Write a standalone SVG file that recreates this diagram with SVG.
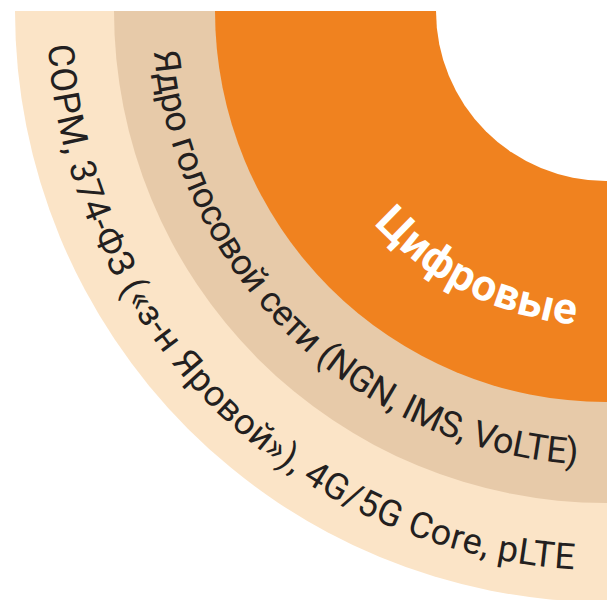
<svg xmlns="http://www.w3.org/2000/svg" width="607" height="600" viewBox="0 0 607 600">
  <defs>
    <clipPath id="clip">
      <rect x="0" y="11" width="607" height="589"/>
    </clipPath>
    <path id="p1" d="M373.8,223.8 A315,315 0 0 0 575.3,324.5"/>
    <path id="p2" d="M153.8,51.4 A454,454 0 0 0 577.5,464.1"/>
    <path id="p3" d="M48.0,45.1 A559,559 0 0 0 574.3,569.1"/>
  </defs>
  <style>
    .lbl { font-family: Roboto, "Noto Sans", "DejaVu Sans", sans-serif; fill: #231f20; font-size: 36px; }
    .big { font-family: Roboto, "Noto Sans", "DejaVu Sans", sans-serif; fill: #ffffff; font-size: 44px; font-weight: 700; }
  </style>
  <rect width="607" height="600" fill="#ffffff"/>
  <g clip-path="url(#clip)">
    <g id="ring-outer">
      <circle cx="606" cy="11" r="591" fill="#fbe4c7"/>
    </g>
    <g id="ring-middle">
      <circle cx="606" cy="11" r="492" fill="#e7caa9"/>
    </g>
    <g id="ring-inner">
      <circle cx="606" cy="11" r="391" fill="#f0821f"/>
    </g>
    <circle cx="606" cy="11" r="170" fill="#ffffff"/>
  </g>
  <g id="label-inner">
    <text class="big"><textPath href="#p1" textLength="230">Цифровые</textPath></text>
  </g>
  <g id="label-middle">
    <text class="lbl"><textPath href="#p2" textLength="644">Ядро голосовой сети (NGN, IMS, VoLTE)</textPath></text>
  </g>
  <g id="label-outer">
    <text class="lbl"><textPath href="#p3" textLength="812">СОРМ, 374-ФЗ («з-н Яровой»), 4G/5G Core, pLTE</textPath></text>
  </g>
</svg>
